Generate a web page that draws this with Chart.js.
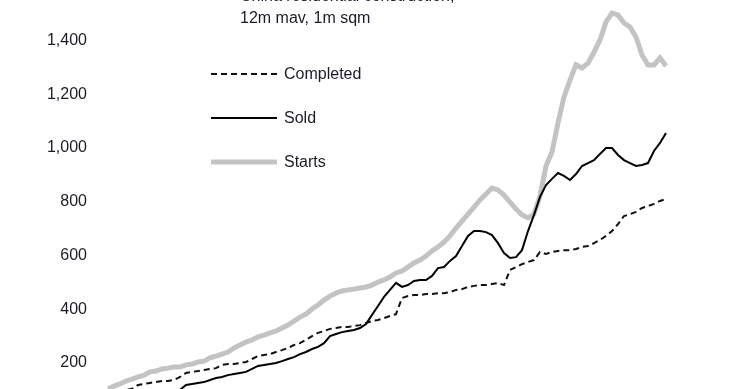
<!DOCTYPE html>
<html>
<head>
<meta charset="utf-8">
<script src="https://cdn.jsdelivr.net/npm/chart.js@4.4.0/dist/chart.umd.min.js"></script>
<style>
  body { margin: 0; background: #fff; }
  #wrap { position: relative; width: 740px; height: 389px; overflow: hidden; }
  .title {
    position: absolute; left: 240px; font: 16px "Liberation Sans", Arial, sans-serif;
    line-height: 19px; color: #1c1c28; white-space: nowrap;
  }
</style>
</head>
<body>
<div id="wrap">
  <canvas id="myChart"></canvas>
  <div class="title" style="top:-14.5px">China residential construction,</div>
  <div class="title" style="top:8px">12m mav, 1m sqm</div>
</div>
<script>
// Valeurs, un point tous les deux mois environ
const startMonth = "1998-03";
const nbPoints = 94;

const completed = [
    85, 90, 95, 100, 104, 118, 122, 126, 129, 133, 133, 137, 148, 163, 167, 170,
    174, 178, 181, 193, 196, 196, 200, 204, 215, 226, 230, 233, 241, 248, 256, 267,
    274, 286, 300, 312, 319, 327, 330, 334, 334, 338, 341, 349, 356, 360, 367, 375,
    382, 442, 449, 453, 453, 457, 457, 460, 460, 464, 472, 475, 483, 487, 490, 490,
    494, 498, 490, 546, 557, 568, 576, 583, 613, 606, 613, 617, 620, 620, 624, 632,
    635, 646, 658, 673, 691, 717, 747, 754, 762, 777, 784, 792, 803, 810
];

const sold = [
    55, 58, 62, 65, 68, 72, 75, 78, 82, 86, 90, 94, 100, 118, 122, 126,
    129, 137, 144, 148, 155, 159, 163, 167, 178, 189, 193, 196, 200, 207, 215, 222,
    233, 241, 252, 260, 274, 300, 308, 315, 319, 323, 330, 345, 379, 412, 446, 472,
    498, 483, 490, 505, 509, 509, 524, 553, 557, 580, 598, 635, 673, 691, 691, 687,
    676, 646, 609, 591, 594, 620, 691, 751, 818, 862, 885, 907, 896, 881, 903, 933,
    944, 955, 978, 1000, 1000, 974, 955, 944, 933, 937, 944, 989, 1019, 1056
];

const starts = [
    103, 114, 122, 133, 140, 148, 155, 167, 170, 178, 181, 185, 185, 193, 196, 204,
    207, 219, 226, 233, 241, 256, 267, 278, 286, 297, 304, 312, 319, 330, 341, 356,
    371, 382, 401, 416, 434, 449, 460, 468, 472, 475, 479, 483, 490, 501, 509, 520,
    535, 542, 557, 572, 583, 598, 617, 632, 650, 673, 702, 728, 754, 780, 807, 829,
    851, 844, 825, 799, 773, 751, 740, 754, 821, 933, 985, 1093, 1190, 1253, 1310, 1298,
    1316, 1357, 1402, 1469, 1502, 1495, 1465, 1450, 1413, 1346, 1309, 1309, 1335, 1305
];

const yTicks = [200, 400, 600, 800, 1000, 1200, 1400];

// Étiquettes de l'axe x (non affiché) : un mois sur deux
const labels = [];
let [annee, mois] = startMonth.split("-").map(Number);
for (let i = 0; i < nbPoints; i++) {
    labels.push(annee + "-" + String(mois).padStart(2, "0"));
    mois += 2;
    if (mois > 12) { mois -= 12; annee++; }
}

const textColor = '#1c1c28';

// Légende dessinée à la main, à l'intérieur du graphique
const legendeInterne = {
    id: 'legendeInterne',
    afterDraw(chart) {
        const ctx = chart.ctx;
        const rows = [74, 118, 162];
        ctx.save();
        chart.data.datasets.forEach((ds, i) => {
            const y = rows[i];
            ctx.beginPath();
            ctx.strokeStyle = ds.borderColor;
            ctx.lineWidth = ds.borderWidth;
            ctx.setLineDash(ds.borderDash || []);
            ctx.moveTo(211, y);
            ctx.lineTo(277, y);
            ctx.stroke();
            ctx.setLineDash([]);
            ctx.fillStyle = textColor;
            ctx.font = '16px "Liberation Sans", Arial, sans-serif';
            ctx.textBaseline = 'middle';
            ctx.textAlign = 'left';
            ctx.fillText(ds.label, 284, y + 1);
        });
        ctx.restore();
    }
};

const ctx = document.getElementById('myChart').getContext('2d');
const myChart = new Chart(ctx, {
    type: 'line',
    data: {
        labels: labels,
        datasets: [
            {
                label: 'Completed',
                data: completed,
                borderColor: '#111',
                borderWidth: 2,
                borderDash: [6, 4],
                pointRadius: 0,
            },
            {
                label: 'Sold',
                data: sold,
                borderColor: '#000',
                borderWidth: 2,
                pointRadius: 0,
            },
            {
                label: 'Starts',
                data: starts,
                borderColor: '#c3c3c3',
                borderWidth: 5,
                pointRadius: 0,
            },
        ],
    },
    options: {
        responsive: true,
        maintainAspectRatio: false,
        animation: false,
        layout: { padding: { left: 0, right: 74, top: 0, bottom: 0 } },
        scales: {
            x: {
                display: false,
            },
            y: {
                min: 103.3,
                max: 1550.7,
                afterFit: (scale) => {
                    scale.width = 108;
                    scale.paddingTop = 0;
                    scale.paddingBottom = 0;
                },
                afterBuildTicks: (scale) => {
                    scale.ticks = yTicks.map(v => ({ value: v }));
                },
                grid: { display: false, drawTicks: false },
                border: { display: false },
                ticks: {
                    padding: 21,
                    color: textColor,
                    font: { family: '"Liberation Sans", Arial, sans-serif', size: 16 },
                    callback: (value) => value.toLocaleString('en-US'),
                },
            },
        },
        plugins: {
            legend: { display: false },
            tooltip: { enabled: false },
        },
    },
    plugins: [legendeInterne],
});
</script>
</body>
</html>
